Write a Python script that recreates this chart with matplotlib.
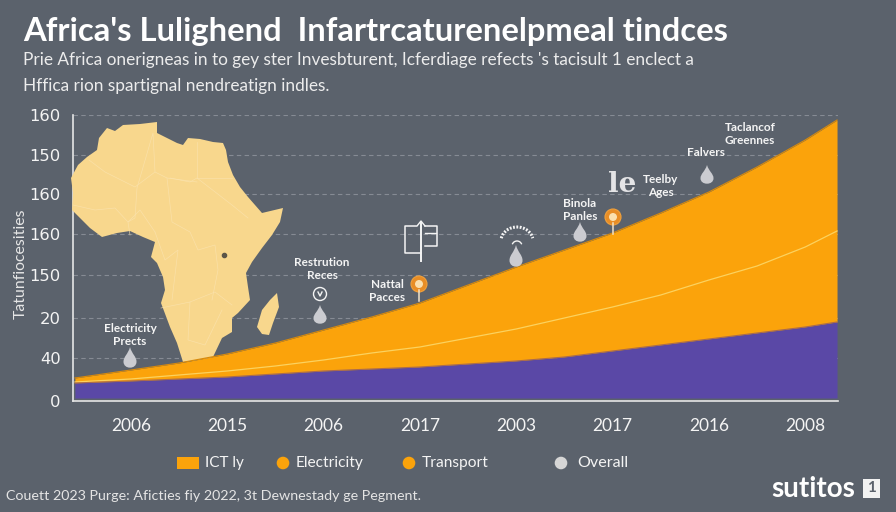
import matplotlib
matplotlib.use("Agg")
import matplotlib.pyplot as plt
from matplotlib.patches import PathPatch, Polygon, Rectangle, Circle, Arc
from matplotlib.path import Path

# ---- data (height above the baseline) ----
year_labels = ["2006", "2015", "2006", "2017", "2003", "2017", "2016", "2008"]
y_positions = [0, 43, 83, 126, 167, 207, 246, 286]
y_labels = ["0", "40", "20", "150", "160", "160", "150", "160"]

x_pos = [-0.58, 0, 0.5, 1, 1.5, 2, 2.5, 3, 3.5, 4, 4.5, 5, 5.5, 6, 6.5, 7, 7.33]
base_band = [18, 20, 22, 24, 27, 30, 32, 34, 37, 40, 44, 50, 56, 62, 68, 74, 79]
mid_line = [19, 22, 26, 30, 35, 41, 48, 54, 63, 72, 83, 94, 106, 121, 135, 154, 170]
top_band = [23, 31, 38, 47, 58, 71, 84, 98, 116, 134, 151, 168, 188, 209, 234, 261, 281]

# ---- map outline, traced in figure pixels ----
africa_x = [71, 78, 87, 97, 99, 107, 115, 123, 140, 157, 157, 167, 177, 183, 188, 200, 213, 223,
            226, 228, 233, 240, 248, 255, 262, 283, 280, 272, 262, 252, 246, 248, 250, 238, 232,
            232, 222, 213, 197, 183, 177, 170, 161, 165, 163, 157, 151, 155, 143, 130, 117, 102,
            90, 80, 72, 73]
africa_y = [178, 165, 157, 150, 138, 128, 131, 125, 124, 122, 133, 138, 143, 145, 138, 139, 142, 143,
            150, 162, 175, 187, 197, 205, 213, 208, 222, 235, 248, 262, 273, 287, 300, 313, 318,
            332, 338, 357, 360, 362, 343, 327, 303, 290, 277, 263, 257, 242, 237, 231, 233, 237,
            228, 218, 210, 193]
madagascar_x = [277, 279, 273, 269, 262, 257, 262, 270]
madagascar_y = [293, 307, 323, 335, 334, 327, 310, 300]
border_lines = [
    ([89, 105, 135, 155, 167, 197], [160, 172, 187, 172, 178, 182]),
    ([155, 153, 137, 135, 128, 130], [172, 133, 188, 218, 222, 235]),
    ([197, 197, 232], [142, 178, 178]),
    ([170, 190, 197, 232, 248], [178, 182, 178, 205, 218]),
    ([167, 172, 190, 198, 215, 218, 212], [178, 222, 232, 250, 245, 270, 300]),
    ([161, 190, 215, 232], [308, 302, 292, 305]),
    ([190, 188, 205, 222], [302, 340, 345, 310]),
    ([73, 95, 115, 128, 140, 155], [205, 210, 208, 222, 210, 232]),
    ([155, 165, 178, 172], [232, 260, 250, 300]),
]

# ---- annotations on the chart ----
note_texts = ["Electricity\nPrects", "Restrution\nReces", "Nattal\nPacces", "Binola\nPanles",
              "Teelby\nAges", "Falvers", "Taclancof\nGreennes"]
note_x = [130, 322, 387, 580, 661, 706, 750]
note_y = [335, 269, 291, 210, 186, 152, 134]
drop_x = [130, 320, 516, 580, 707]
drop_top = [347, 305, 245, 222, 165]
drop_bottom = [368, 324, 267, 242, 184]
pin_x = [419, 613]
pin_y = [284, 217]

BG = "#5b626c"
ORANGE = "#fba30b"
PURPLE = "#5a48a6"
MAP = "#f8d78d"
WHITE = "#f4f4f4"
GREY = "#cbccd1"

plt.rcParams["font.family"] = ["Lato", "DejaVu Sans"]

fig = plt.figure(figsize=(8.96, 5.12), dpi=100, facecolor=BG)

# ---- main chart axes, x from 73 to 838 px, y from 401 to 115 px ----
ax = fig.add_axes([73 / 896, (512 - 401) / 512, 765 / 896, 286 / 512], facecolor=BG)
ax.set_xlim(-0.6, 7.34)
ax.set_ylim(0, 286)

ax.set_xticks(range(len(year_labels)))
ax.set_xticklabels(year_labels, fontsize=12.5, color=WHITE)
ax.set_yticks(y_positions)
ax.set_yticklabels(y_labels, fontsize=11.8, color=WHITE, family=["DejaVu Sans"])
ax.tick_params(axis="x", length=0, pad=12)
ax.tick_params(axis="y", length=0, pad=9)

for side in ["top", "right"]:
    ax.spines[side].set_visible(False)
for side in ["left", "bottom"]:
    ax.spines[side].set_color("#e6e6e6")
    ax.spines[side].set_linewidth(1.2)

ax.grid(axis="y", color="#868b94", linestyle=(0, (4, 3)), linewidth=0.8, zorder=1)
ax.set_axisbelow(True)

ax.fill_between(x_pos, base_band, top_band, color=ORANGE, linewidth=0, zorder=4)
ax.fill_between(x_pos, 3, base_band, color=PURPLE, linewidth=0, zorder=4)
ax.plot(x_pos, top_band, color="#d98a0a", linewidth=0.8, zorder=5)
ax.plot(x_pos, mid_line, color="#fcd25e", linewidth=0.9, zorder=5)
ax.plot(x_pos, base_band, color="#a86a50", linewidth=0.8, zorder=5)

# ---- overlay in figure pixels, for the map, icons and free text ----
ov = fig.add_axes([0, 0, 1, 1], facecolor="none")
ov.set_xlim(0, 896)
ov.set_ylim(512, 0)
ov.axis("off")
ax.set_zorder(1)
ov.set_zorder(2)

# map goes under the bands but over the left axis line
ax.add_patch(Polygon(list(zip(africa_x, africa_y)), closed=True, facecolor=MAP, edgecolor="none",
                     transform=ov.transData, zorder=2.6, clip_on=False))
ax.add_patch(Polygon(list(zip(madagascar_x, madagascar_y)), closed=True, facecolor=MAP, edgecolor="none",
                     transform=ov.transData, zorder=2.6))
for bx, by in border_lines:
    ax.plot(bx, by, color="#fbe3ae", linewidth=0.5, alpha=0.8, transform=ov.transData, zorder=3)
ax.plot([224], [255], marker="o", markersize=3, color="#5b5548", transform=ov.transData, zorder=3)


def droplet(cx, top, bottom, w=6.5, color=GREY):
    h = bottom - top
    verts = [(cx, top), (cx + w * 0.3, top + h * 0.35), (cx + w, top + h * 0.45), (cx + w, top + h * 0.7),
             (cx + w, bottom + h * 0.08), (cx - w, bottom + h * 0.08), (cx - w, top + h * 0.7),
             (cx - w, top + h * 0.45), (cx - w * 0.3, top + h * 0.35), (cx, top)]
    codes = [Path.MOVETO] + [Path.CURVE4] * 9
    ov.add_patch(PathPatch(Path(verts, codes), facecolor=color, edgecolor="none"))


for dx, dt, db in zip(drop_x, drop_top, drop_bottom):
    droplet(dx, dt, db)

for px, py in zip(pin_x, pin_y):
    ov.plot([px, px], [py + 6, py + 17], color="#f3e2c8", linewidth=1.1)
    ov.add_patch(Circle((px, py), 8, facecolor="#e88d25", edgecolor="#f1a13b", linewidth=0.8))
    ov.add_patch(Circle((px, py), 4, facecolor="#fbe0ae", edgecolor="none"))

for t, nx, ny in zip(note_texts, note_x, note_y):
    ov.text(nx, ny, t, color=WHITE, fontsize=8.5, ha="center", va="center", linespacing=1.2, fontweight="bold")

# small line icons
ov.add_patch(Circle((320, 294), 6.5, facecolor="none", edgecolor=WHITE, linewidth=1))
ov.plot([318, 320, 322], [292, 296, 292], color=WHITE, linewidth=1)
ov.plot([416, 405, 405, 421], [226, 226, 253, 253], color=WHITE, linewidth=1.1)
ov.plot([425, 437, 437, 425], [226, 226, 246, 246], color=WHITE, linewidth=1.1)
ov.plot([425, 436], [233, 233], color=WHITE, linewidth=1)
ov.plot([421, 421], [222, 261], color=WHITE, linewidth=1.4)
ov.plot([417, 421, 425], [226, 221, 226], color=WHITE, linewidth=1)
ov.add_patch(Arc((517, 241), 32, 28, theta1=190, theta2=350, color=WHITE, linewidth=2.2, linestyle=(0, (0.6, 0.5))))
ov.add_patch(Arc((517, 246), 10, 10, theta1=200, theta2=340, color=WHITE, linewidth=1))
ov.text(622, 184, "le", color="#e4e4e6", fontsize=20, fontweight="bold", ha="center", va="center",
        family=["DejaVu Serif"])

# ---- titles and side text ----
ov.text(23, 31, "Africa's Lulighend  Infartrcaturenelpmeal tindces", color="white", fontsize=23.6,
        fontweight="bold", ha="left", va="center")
ov.text(23, 60, "Prie Africa onerigneas in to gey ster Invesbturent, Icferdiage refects 's tacisult 1 enclect a",
        color="#ececec", fontsize=12.4, ha="left", va="center")
ov.text(23, 86, "Hffica rion spartignal nendreatign indles.", color="#ececec", fontsize=12.4,
        ha="left", va="center")
ov.text(21, 264, "Tatunfiocesities", color="#e6e6e6", fontsize=11.4, rotation=90, ha="center", va="center")

# ---- legend row ----
ov.add_patch(Rectangle((177, 457), 22, 12, facecolor=ORANGE, edgecolor="none"))
ov.text(205, 463, "ICT ly", color=WHITE, fontsize=11, ha="left", va="center")
ov.add_patch(Circle((283, 463), 6.3, facecolor=ORANGE, edgecolor="none"))
ov.text(296, 463, "Electricity", color=WHITE, fontsize=11.2, ha="left", va="center")
ov.add_patch(Circle((409, 463), 6.3, facecolor=ORANGE, edgecolor="none"))
ov.text(422, 463, "Transport", color=WHITE, fontsize=11.2, ha="left", va="center")
ov.add_patch(Circle((561, 463), 6.3, facecolor="#d6d6d6", edgecolor="none"))
ov.text(577, 463, "Overall", color=WHITE, fontsize=11.6, ha="left", va="center")

# ---- footer ----
ov.text(6, 496, "Couett 2023 Purge: Aficties fiy 2022, 3t Dewnestady ge Pegment.", color="#e4e4e4",
        fontsize=10.25, ha="left", va="center")
ov.text(771, 489, "sutitos", color="white", fontsize=20, fontweight="bold", ha="left", va="center")
ov.add_patch(Rectangle((863, 479), 17, 19, facecolor="#f2f2f2", edgecolor="none"))
ov.text(871.5, 488.5, "1", color=BG, fontsize=11, fontweight="bold", ha="center", va="center")

fig.savefig("out.png", dpi=100, facecolor=BG)
